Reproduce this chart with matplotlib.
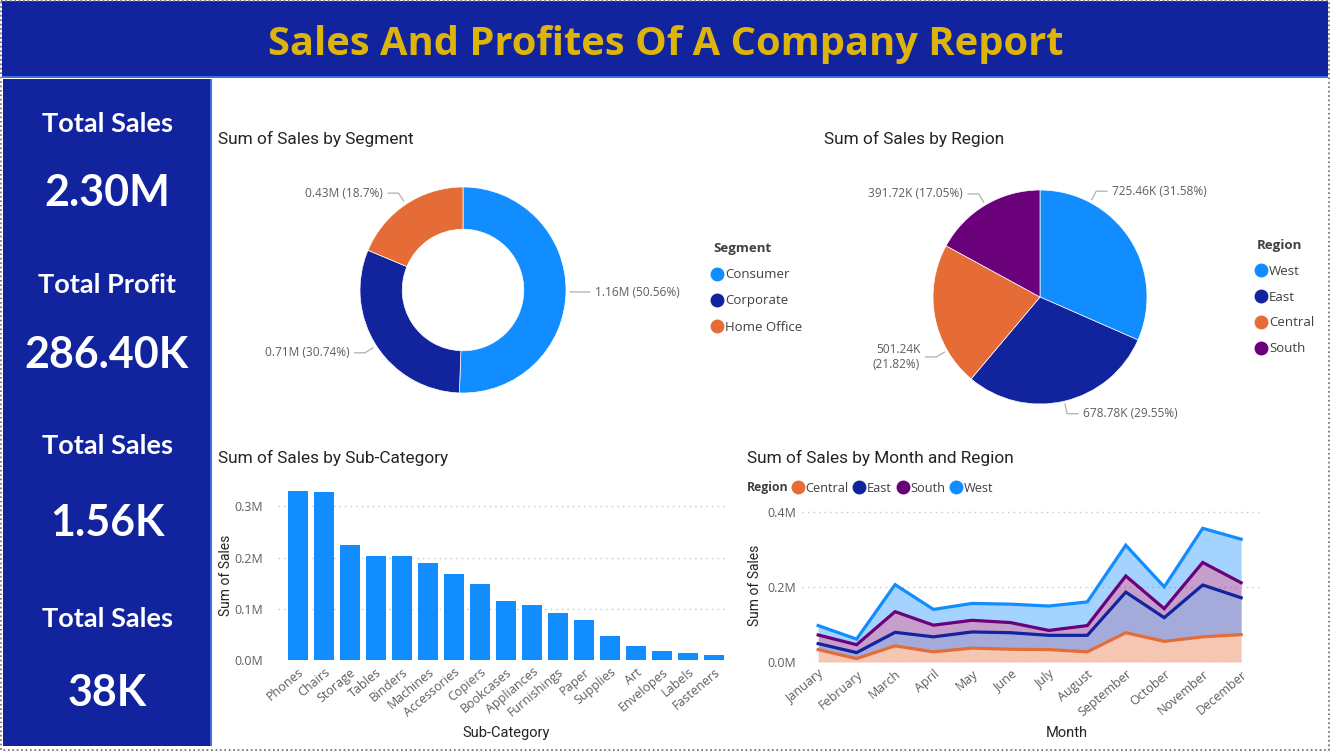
import matplotlib
matplotlib.use("Agg")
import matplotlib.pyplot as plt
import numpy as np
from matplotlib.patches import Rectangle
from matplotlib.lines import Line2D

# ---------------- data ----------------
kpi_labels = ["Total Sales", "Total Profit", "Total Sales", "Total Sales"]
kpi_values = ["2.30M", "286.40K", "1.56K", "38K"]

segments = ["Consumer", "Corporate", "Home Office"]
segment_sales_k = [1161.40, 706.15, 429.65]

regions_pie = ["West", "East", "Central", "South"]
region_sales_k = [725.46, 678.78, 501.24, 391.72]

subcategories = ["Phones", "Chairs", "Storage", "Tables", "Binders", "Machines",
                 "Accessories", "Copiers", "Bookcases", "Appliances", "Furnishings",
                 "Paper", "Supplies", "Art", "Envelopes", "Labels", "Fasteners"]
subcat_sales_m = [0.330, 0.328, 0.224, 0.204, 0.203, 0.189, 0.167, 0.149, 0.115,
                  0.108, 0.092, 0.079, 0.047, 0.028, 0.018, 0.013, 0.010]

months = ["January", "February", "March", "April", "May", "June", "July",
          "August", "September", "October", "November", "December"]
area_regions = ["Central", "East", "South", "West"]
central_m = [0.033, 0.009, 0.043, 0.027, 0.037, 0.034, 0.033, 0.027, 0.078, 0.055, 0.067, 0.073]
east_m = [0.016, 0.016, 0.036, 0.040, 0.043, 0.044, 0.038, 0.044, 0.108, 0.063, 0.138, 0.098]
south_m = [0.023, 0.021, 0.055, 0.031, 0.031, 0.027, 0.013, 0.026, 0.043, 0.024, 0.060, 0.040]
west_m = [0.025, 0.015, 0.072, 0.042, 0.045, 0.049, 0.065, 0.063, 0.082, 0.058, 0.091, 0.116]

# ---------------- style ----------------
BLUE = "#118DFF"
NAVY = "#12239E"
ORANGE = "#E66C37"
PURPLE = "#6B007B"
GOLD = "#DDB40A"
GRAY = "#605E5C"
DARK = "#252423"

plt.rcParams["font.family"] = ["Open Sans", "DejaVu Sans"]

W, H = 1330, 752
fig = plt.figure(figsize=(W / 100, H / 100), dpi=100)
fig.patch.set_facecolor("white")


def ax_px(x0, y0, x1, y1):
    return fig.add_axes([x0 / W, 1 - y1 / H, (x1 - x0) / W, (y1 - y0) / H])


bg = ax_px(0, 0, W, H)
bg.set_xlim(0, W)
bg.set_ylim(H, 0)
bg.axis("off")

# header + left panel
bg.add_patch(Rectangle((2, 1), W - 4, 76, color=NAVY, lw=0))
bg.add_patch(Rectangle((2, 76), W - 4, 2, color="#3C6FE0", lw=0))
bg.add_patch(Rectangle((3, 79), 209, 667, color=NAVY, lw=0))
bg.add_patch(Rectangle((210, 79), 2, 667, color="#3C6FE0", lw=0))
bg.add_patch(Rectangle((1, 1), W - 2, H - 3, fill=False, ls=":", lw=1.2, ec="#666666"))

bg.text(666, 44, "Sales And Profites Of A Company Report", color=GOLD,
        fontsize=28.7, fontweight="bold", ha="center", va="center")

kpi_label_y = [124, 285, 446, 619]
kpi_value_y = [193, 355, 523, 693]
for lab, val, ly, vy in zip(kpi_labels, kpi_values, kpi_label_y, kpi_value_y):
    bg.text(107, ly, lab, color="white", fontsize=19.5, fontweight="bold",
            ha="center", va="center", family="Lato")
    bg.text(107, vy, val, color="white", fontsize=31, fontweight="bold",
            ha="center", va="center", family="Lato")

title_kw = dict(color=DARK, fontsize=12.4, ha="left", va="center", family="Roboto")
bg.text(218, 139, "Sum of Sales by Segment", **title_kw)
bg.text(824, 139, "Sum of Sales by Region", **title_kw)
bg.text(218, 458, "Sum of Sales by Sub-Category", **title_kw)
bg.text(747, 458, "Sum of Sales by Month and Region", **title_kw)


def fmt_pct(p):
    return f"{p:.2f}".rstrip("0").rstrip(".")


def pie_labels(ax, wedges, labels, overrides=None, r0=1.04, r1=1.13, dx=0.1, gap=0.05):
    overrides = overrides or {}
    for i, (w, lab) in enumerate(zip(wedges, labels)):
        ang = overrides.get(i, (w.theta1 + w.theta2) / 2.0)
        a = np.deg2rad(ang)
        c, s = np.cos(a), np.sin(a)
        side = 1 if c >= 0 else -1
        x0, y0 = r0 * c, r0 * s
        x1, y1 = r1 * c, r1 * s
        x2 = x1 + side * dx
        ax.plot([x0, x1, x2], [y0, y1, y1], color="#B3B0AD", lw=0.9, clip_on=False)
        ax.text(x2 + side * gap, y1, lab, color=GRAY, fontsize=8.6,
                ha="left" if side > 0 else "right", va="center",
                multialignment="right")


# ---------------- donut ----------------
ax1 = ax_px(360, 187, 566, 393)
tot_seg = sum(segment_sales_k)
w1, _ = ax1.pie(segment_sales_k, colors=[BLUE, NAVY, ORANGE], startangle=90,
                counterclock=False, radius=1.0,
                wedgeprops=dict(width=0.41, edgecolor="white", linewidth=0.5))
ax1.set_xlim(-1, 1)
ax1.set_ylim(-1, 1)
ax1.set_aspect("equal")
seg_labels = [f"{v / 1000:.2f}M ({fmt_pct(100 * v / tot_seg)}%)" for v in segment_sales_k]
pie_labels(ax1, w1, seg_labels)

seg_handles = [Line2D([], [], marker="o", ls="", markersize=9, color=c)
               for c in [BLUE, NAVY, ORANGE]]
leg1 = fig.legend(seg_handles, segments, title="Segment", loc="upper left",
                  bbox_to_anchor=(713 / W, 1 - 242 / H), frameon=False,
                  fontsize=9.5, title_fontsize=9.5, alignment="left",
                  handlelength=0.6, handletextpad=0.3, labelspacing=1.0,
                  borderpad=0, borderaxespad=0)
leg1.get_title().set_fontweight("bold")
leg1.get_title().set_color("#404040")
for t in leg1.get_texts():
    t.set_color("#404040")

# ---------------- pie ----------------
ax2 = ax_px(933, 190, 1147, 404)
tot_reg = sum(region_sales_k)
w2, _ = ax2.pie(region_sales_k, colors=[BLUE, NAVY, ORANGE, PURPLE], startangle=90,
                counterclock=False, radius=1.0,
                wedgeprops=dict(edgecolor="white", linewidth=0.5))
ax2.set_xlim(-1, 1)
ax2.set_ylim(-1, 1)
ax2.set_aspect("equal")
reg_labels = []
for name, v in zip(regions_pie, region_sales_k):
    sep = "\n" if name == "Central" else " "
    reg_labels.append(f"{v:.2f}K{sep}({fmt_pct(100 * v / tot_reg)}%)")
pie_labels(ax2, w2, reg_labels, overrides={0: 62, 2: -150}, r0=1.03, r1=1.12)

reg_handles = [Line2D([], [], marker="o", ls="", markersize=9, color=c)
               for c in [BLUE, NAVY, ORANGE, PURPLE]]
leg2 = fig.legend(reg_handles, regions_pie, title="Region", loc="upper left",
                  bbox_to_anchor=(1257 / W, 1 - 239 / H), frameon=False,
                  fontsize=9.5, title_fontsize=9.5, alignment="left",
                  handlelength=0.6, handletextpad=0.3, labelspacing=0.97,
                  borderpad=0, borderaxespad=0)
leg2.get_title().set_fontweight("bold")
leg2.get_title().set_color("#404040")
for t in leg2.get_texts():
    t.set_color("#404040")

# ---------------- bar chart ----------------
ax3 = ax_px(278, 490, 727, 660)
xpos = np.arange(len(subcategories))
ax3.bar(xpos, subcat_sales_m, width=0.8, color=BLUE, zorder=3)
ax3.set_xlim(-0.77, len(subcategories) - 0.5)
ax3.set_ylim(0, 0.332)
ax3.set_yticks([0, 0.1, 0.2, 0.3])
ax3.set_yticklabels(["0.0M", "0.1M", "0.2M", "0.3M"])
ax3.set_xticks(xpos)
ax3.set_xticklabels(subcategories, rotation=40, ha="right", rotation_mode="anchor")
ax3.tick_params(axis="both", length=0, labelsize=9, labelcolor=GRAY)
ax3.tick_params(axis="y", pad=11)
ax3.tick_params(axis="x", pad=4)
ax3.grid(axis="y", ls=(0, (1, 3)), color="#C8C6C4", lw=1, zorder=0)
for sp in ax3.spines.values():
    sp.set_visible(False)
ax3.set_ylabel("Sum of Sales", fontsize=10, color=DARK, family="Roboto")
ax3.yaxis.set_label_coords(-0.116, 0.5)
ax3.yaxis.label.set_va("center")
ax3.set_xlabel("Sub-Category", fontsize=10.5, color=DARK, family="Roboto")
ax3.xaxis.set_label_coords(0.508, -0.43)
ax3.xaxis.label.set_va("center")

# ---------------- stacked area ----------------
ax4 = ax_px(802, 505, 1260, 662)
xm = np.arange(len(months))
series = [central_m, east_m, south_m, west_m]
colors = [ORANGE, NAVY, PURPLE, BLUE]
cum = np.cumsum(np.array(series), axis=0)
base = np.zeros(len(months))
for top, c in zip(cum, colors):
    ax4.fill_between(xm, base, top, color=c, alpha=0.38, lw=0, zorder=2)
    base = top
for top, c in zip(cum, colors):
    ax4.plot(xm, top, color=c, lw=2.3, zorder=3, solid_joinstyle="miter")
ax4.set_xlim(-0.42, len(months) - 0.51)
ax4.set_ylim(0, 0.418)
ax4.set_yticks([0, 0.2, 0.4])
ax4.set_yticklabels(["0.0M", "0.2M", "0.4M"])
ax4.set_xticks(xm)
ax4.set_xticklabels(months, rotation=40, ha="right", rotation_mode="anchor")
ax4.tick_params(axis="both", length=0, labelsize=9, labelcolor=GRAY)
ax4.tick_params(axis="y", pad=4)
ax4.tick_params(axis="x", pad=4)
ax4.grid(axis="y", ls=(0, (1, 3)), color="#C8C6C4", lw=1, zorder=0)
for sp in ax4.spines.values():
    sp.set_visible(False)
ax4.set_ylabel("Sum of Sales", fontsize=10, color=DARK, family="Roboto")
ax4.yaxis.set_label_coords(-0.1026, 0.49)
ax4.yaxis.label.set_va("center")
ax4.set_xlabel("Month", fontsize=10.5, color=DARK, family="Roboto")
ax4.xaxis.set_label_coords(0.579, -0.452)
ax4.xaxis.label.set_va("center")

bg.text(747, 488, "Region", color="#404040", fontsize=8.8, fontweight="bold",
        ha="left", va="center")
area_handles = [Line2D([], [], marker="o", ls="", markersize=9, color=c) for c in colors]
fig.legend(area_handles, area_regions, loc="center left",
           bbox_to_anchor=(794 / W, 1 - 488 / H), ncol=4, frameon=False,
           fontsize=9.2, labelcolor="#404040", handlelength=0.6,
           handletextpad=0.25, columnspacing=0.6, borderpad=0, borderaxespad=0)

fig.savefig("out.png", dpi=100)
